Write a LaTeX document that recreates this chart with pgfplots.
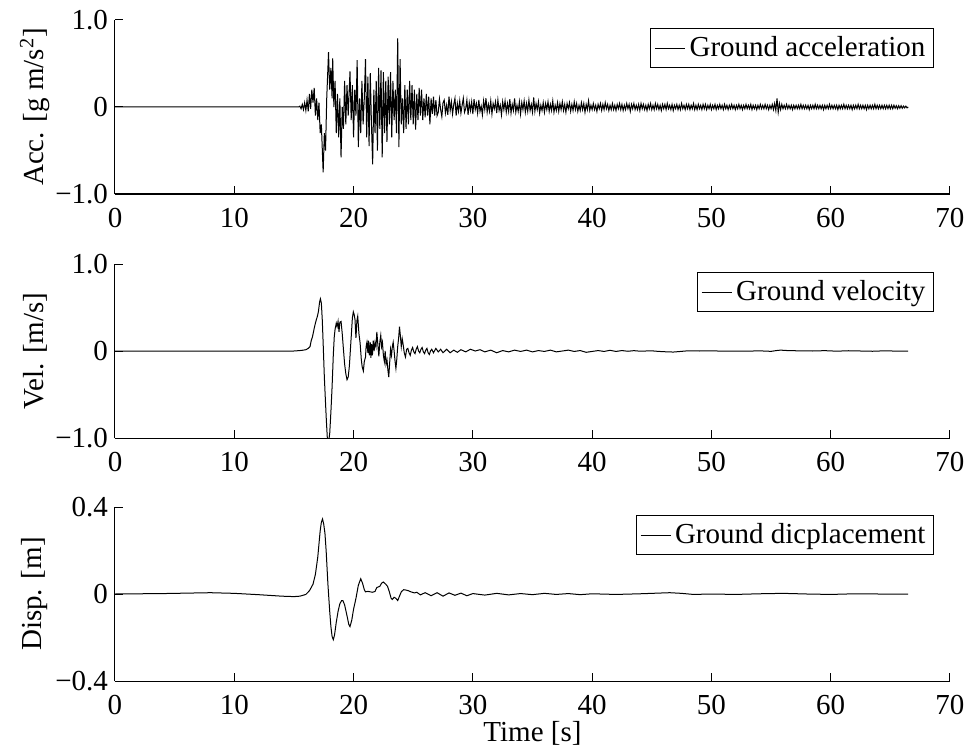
\documentclass[border=0pt]{standalone}
\usepackage{fontspec}
\setmainfont{Liberation Serif}
\usepackage{pgfplots}
\pgfplotsset{compat=1.18}

\newcommand{\fs}{\fontsize{14.5}{17}\selectfont}

\pgfplotsset{
  sig/.style={
    scale only axis,
    width=417.5pt, height=87pt,
    xmin=0, xmax=70,
    xtick={0,10,...,70},
    xticklabels={0,10,20,30,40,50,60,70},
    axis lines*=left,
    tick align=inside,
    major tick length=4pt,
    axis line style={line width=0.5pt, black},
    tick style={line width=0.5pt, black},
    tick label style={font=\fs},
    xticklabel style={yshift=-3.5pt},
    label style={font=\fs},
    ylabel style={at={(axis description cs:-0.0958,0.5)}, anchor=center},
    legend style={font=\fs, draw=black, line width=0.5pt, at={(rel axis cs:1,1)},
      anchor=north east, xshift=-8pt, yshift=-4pt, inner sep=2pt,
      legend cell align=left},
    legend image code/.code={\draw[#1] (0pt,0pt) -- (15pt,0pt);},
    cycle list={{black, line width=0.5pt}},
  }
}

\begin{document}
\begin{tikzpicture}
\path[use as bounding box] (-57.5pt,0pt) rectangle (427.5pt,-374.5pt);

% acceleration
\begin{axis}[sig, at={(0pt,-10pt)}, anchor=north west,
  ymin=-1, ymax=1, ytick={-1,0,1}, yticklabels={−1.0,0,1.0},
  ylabel={Acc. [g m/s\textsuperscript{2}]}]
\addplot[black, line width=0.5pt] coordinates {
(0,0) (15.4,0) (15.5,0.01) (15.6,-0.02) (15.7,0.03) (15.8,-0.03) (15.9,0.05) (16.0,-0.04)
(16.1,0.08) (16.2,-0.05) (16.3,0.15) (16.4,-0.02) (16.5,0.2) (16.6,0.05) (16.7,0.22) (16.8,-0.1)
(16.9,0.1) (17.0,-0.15) (17.1,0.05) (17.2,-0.3) (17.3,-0.2) (17.45,-0.75) (17.55,-0.3) (17.65,-0.5)
(17.75,0.1) (17.9,0.63) (18.0,0.2) (18.1,0.45) (18.2,0.1) (18.25,0.56) (18.35,0.0) (18.45,0.3)
(18.55,-0.3) (18.65,0.15) (18.75,-0.35) (18.85,0.1) (18.95,-0.58) (19.05,0.0) (19.15,-0.25) (19.25,0.3)
(19.35,-0.2) (19.45,0.25) (19.55,-0.1) (19.7,0.41) (19.8,-0.15) (19.9,0.25) (20.0,-0.35) (20.1,0.2)
(20.2,-0.1) (20.3,0.54) (20.4,-0.46) (20.5,0.1) (20.6,-0.3) (20.7,0.3) (20.8,-0.2) (20.9,0.1)
(21.0,0.55) (21.1,-0.35) (21.2,0.35) (21.3,-0.45) (21.4,0.39) (21.5,-0.2) (21.6,-0.66) (21.7,0.2)
(21.8,-0.3) (21.9,0.3) (22.0,-0.5) (22.1,0.45) (22.2,-0.25) (22.3,0.42) (22.4,-0.58) (22.5,0.40)
(22.6,-0.3) (22.7,0.3) (22.8,-0.4) (22.9,0.35) (23.0,-0.2) (23.1,0.4) (23.2,-0.35) (23.3,0.3)
(23.4,-0.15) (23.5,0.2) (23.6,-0.3) (23.7,0.79) (23.8,-0.46) (23.9,0.55) (24.0,-0.2) (24.1,0.1)
(24.2,-0.3) (24.3,0.25) (24.4,-0.25) (24.5,0.2) (24.6,-0.2) (24.7,0.3) (24.8,-0.15) (24.9,0.25)
(25.0,-0.2) (25.1,0.2) (25.2,-0.26) (25.3,0.15) (25.4,-0.15) (25.5,0.22) (25.6,-0.1) (25.7,0.2)
(25.8,-0.15) (25.9,0.1) (26.0,-0.12) (26.1,0.15) (26.2,-0.1) (26.3,0.12) (26.4,-0.2) (26.5,0.1)
(26.6,-0.08) (26.7,0.12) (26.8,-0.1) (26.9,0.08) (27.0,-0.1)
(27.1,-0.06) (27.2,0.09) (27.3,-0.03) (27.4,-0.11) (27.5,0.05) (27.6,0.08) (27.7,-0.07) (27.8,0.02) (27.9,-0.09) (28.0,0.12)
(28.1,-0.04) (28.2,0.06) (28.3,-0.08) (28.4,0.03) (28.5,0.10) (28.6,-0.10) (28.7,0.04) (28.8,-0.05) (28.9,0.07) (29.0,-0.07)
(29.1,0.02) (29.2,0.10) (29.3,-0.06) (29.4,-0.02) (29.5,0.08) (29.6,-0.09) (29.7,0.05) (29.8,-0.04) (29.9,0.06) (30.0,-0.08)
(30.1,0.09) (30.2,-0.03) (30.3,0.04) (30.4,-0.07) (30.5,0.08) (30.6,-0.05) (30.7,0.01) (30.8,-0.09) (30.9,0.07) (31.0,-0.03)
(31.1,0.10) (31.2,-0.06) (31.3,0.03) (31.4,-0.05) (31.5,0.07) (31.6,-0.08) (31.7,0.04) (31.8,-0.02) (31.9,0.06) (32.0,-0.07)
(32.1,0.08) (32.2,-0.04) (32.3,0.02) (32.4,-0.09) (32.5,0.06) (32.6,-0.03) (32.7,0.07) (32.8,-0.06) (32.9,0.04) (33.0,-0.05)
(33.1,0.09) (33.2,-0.07) (33.3,0.03) (33.4,-0.04) (33.5,0.10) (33.6,-0.06) (33.7,0.02) (33.8,-0.05) (33.9,0.06) (34.0,-0.08)
(34.1,0.05) (34.2,-0.03) (34.3,0.07) (34.4,-0.06) (34.5,0.04) (34.6,-0.05) (34.7,0.08) (34.8,-0.04) (34.9,0.03) (35.0,-0.06)
(35.1,0.11) (35.2,-0.05) (35.3,0.04) (35.4,-0.03) (35.5,0.06) (35.6,-0.07) (35.7,0.02) (35.8,-0.04) (35.9,0.05) (36.0,-0.06)
(36.1,0.04) (36.2,-0.03) (36.3,0.06) (36.4,-0.05) (36.5,0.03) (36.6,-0.04) (36.7,0.07) (36.8,-0.06) (36.9,0.02) (37.0,-0.04)
(37.1,0.05) (37.2,-0.05) (37.3,0.04) (37.4,-0.03) (37.5,0.06) (37.6,-0.04) (37.7,0.03) (37.8,-0.06) (37.9,0.04) (38.0,-0.02)
(38.1,0.05) (38.2,-0.05) (38.3,0.03) (38.4,-0.04) (38.5,0.06) (38.6,-0.03) (38.7,0.04) (38.8,-0.05) (38.9,0.02) (39.0,-0.04)
(39.1,0.05) (39.2,-0.03) (39.3,0.04) (39.4,-0.06) (39.5,0.03) (39.6,-0.03) (39.7,0.07) (39.8,-0.04) (39.9,0.02) (40.0,-0.03)
(40.1,0.04) (40.2,-0.03) (40.3,0.02) (40.4,-0.05) (40.5,0.03) (40.6,-0.02) (40.7,0.04) (40.8,-0.04) (40.9,0.03) (41.0,-0.03)
(41.1,0.05) (41.2,-0.02) (41.3,0.03) (41.4,-0.04) (41.5,0.02) (41.6,-0.03) (41.7,0.04) (41.8,-0.03) (41.9,0.02) (42.0,-0.04)
(42.1,0.03) (42.2,-0.02) (42.3,0.04) (42.4,-0.03) (42.5,0.03) (42.6,-0.04) (42.7,0.02) (42.8,-0.03) (42.9,0.04) (43.0,-0.02)
(43.1,0.03) (43.2,-0.05) (43.3,0.03) (43.4,-0.02) (43.5,0.04) (43.6,-0.03) (43.7,0.02) (43.8,-0.03) (43.9,0.03) (44.0,-0.04)
(44.1,0.04) (44.2,-0.02) (44.3,0.03) (44.4,-0.03) (44.5,0.02) (44.6,-0.04) (44.7,0.03) (44.8,-0.02) (44.9,0.04) (45.0,-0.03)
(45.1,0.02) (45.2,-0.03) (45.3,0.04) (45.4,-0.02) (45.5,0.03) (45.6,-0.03) (45.7,0.02) (45.8,-0.04) (45.9,0.03) (46.0,-0.02)
(46.1,0.03) (46.2,-0.03) (46.3,0.04) (46.4,-0.02) (46.5,0.02) (46.6,-0.03) (46.7,0.03) (46.8,-0.04) (46.9,0.02) (47.0,-0.02)
(47.1,0.03) (47.2,-0.03) (47.3,0.02) (47.4,-0.03) (47.5,0.04) (47.6,-0.02) (47.7,0.02) (47.8,-0.03) (47.9,0.03) (48.0,-0.02)
(48.1,0.03) (48.2,-0.03) (48.3,0.02) (48.4,-0.02) (48.5,0.04) (48.6,-0.03) (48.7,0.02) (48.8,-0.03) (48.9,0.03) (49.0,-0.02)
(49.1,0.02) (49.2,-0.03) (49.3,0.03) (49.4,-0.02) (49.5,0.03) (49.6,-0.03) (49.7,0.02) (49.8,-0.02) (49.9,0.03) (50.0,-0.03)
(50.1,0.02) (50.2,-0.02) (50.3,0.03) (50.4,-0.03) (50.5,0.02) (50.6,-0.02) (50.7,0.03) (50.8,-0.02) (50.9,0.02) (51.0,-0.03)
(51.1,0.03) (51.2,-0.02) (51.3,0.02) (51.4,-0.03) (51.5,0.02) (51.6,-0.02) (51.7,0.03) (51.8,-0.02) (51.9,0.02) (52.0,-0.03)
(52.1,0.02) (52.2,-0.02) (52.3,0.03) (52.4,-0.02) (52.5,0.02) (52.6,-0.03) (52.7,0.02) (52.8,-0.02) (52.9,0.03) (53.0,-0.02)
(53.1,0.02) (53.2,-0.02) (53.3,0.03) (53.4,-0.03) (53.5,0.02) (53.6,-0.02) (53.7,0.02) (53.8,-0.03) (53.9,0.02) (54.0,-0.02)
(54.1,0.03) (54.2,-0.02) (54.3,0.02) (54.4,-0.02) (54.5,0.03) (54.6,-0.02) (54.7,0.02) (54.8,-0.03) (54.9,0.02) (55.0,-0.02)
(55.1,0.03) (55.2,-0.03) (55.3,0.04) (55.4,-0.04) (55.5,0.10) (55.6,-0.06) (55.7,0.04) (55.8,-0.03) (55.9,0.03) (56.0,-0.02)
(56.1,0.02) (56.2,-0.02) (56.3,0.03) (56.4,-0.02) (56.5,0.02) (56.6,-0.02) (56.7,0.02) (56.8,-0.03) (56.9,0.02) (57.0,-0.02)
(57.1,0.02) (57.2,-0.02) (57.3,0.02) (57.4,-0.02) (57.5,0.03) (57.6,-0.02) (57.7,0.02) (57.8,-0.02) (57.9,0.02) (58.0,-0.02)
(58.1,0.02) (58.2,-0.03) (58.3,0.02) (58.4,-0.02) (58.5,0.02) (58.6,-0.02) (58.7,0.03) (58.8,-0.02) (58.9,0.02) (59.0,-0.02)
(59.1,0.02) (59.2,-0.02) (59.3,0.02) (59.4,-0.03) (59.5,0.02) (59.6,-0.02) (59.7,0.02) (59.8,-0.02) (59.9,0.03) (60.0,-0.02)
(60.1,0.02) (60.2,-0.02) (60.3,0.02) (60.4,-0.02) (60.5,0.02) (60.6,-0.03) (60.7,0.02) (60.8,-0.02) (60.9,0.02) (61.0,-0.02)
(61.1,0.03) (61.2,-0.02) (61.3,0.02) (61.4,-0.02) (61.5,0.02) (61.6,-0.02) (61.7,0.02) (61.8,-0.03) (61.9,0.02) (62.0,-0.02)
(62.1,0.02) (62.2,-0.02) (62.3,0.03) (62.4,-0.02) (62.5,0.02) (62.6,-0.02) (62.7,0.02) (62.8,-0.02) (62.9,0.02) (63.0,-0.03)
(63.1,0.02) (63.2,-0.02) (63.3,0.02) (63.4,-0.02) (63.5,0.02) (63.6,-0.02) (63.7,0.03) (63.8,-0.02) (63.9,0.02) (64.0,-0.02)
(64.1,0.02) (64.2,-0.02) (64.3,0.02) (64.4,-0.02) (64.5,0.02) (64.6,-0.02) (64.7,0.02) (64.8,-0.02) (64.9,0.02) (65.0,-0.02)
(65.1,0.02) (65.2,-0.02) (65.3,0.02) (65.4,-0.015) (65.5,0.015) (65.6,-0.02) (65.7,0.015) (65.8,-0.015) (65.9,0.015) (66.0,-0.015)
(66.1,0.01) (66.2,-0.01) (66.3,0.01) (66.4,-0.01) (66.5,0)
};
\addlegendentry{Ground acceleration}
\end{axis}

% velocity
\begin{axis}[sig, at={(0pt,-132pt)}, anchor=north west,
  ymin=-1, ymax=1, ytick={-1,0,1}, yticklabels={−1.0,0,1.0},
  ylabel={Vel. [m/s]}]
\addplot[black, line width=0.5pt] coordinates {
(0,0) (15.0,0) (15.5,0.005) (15.8,0.01) (16.0,0.015) (16.2,0.03) (16.35,0.05) (16.45,0.12)
(16.55,0.16) (16.7,0.26) (16.8,0.32) (16.9,0.37) (16.95,0.39) (17.05,0.45) (17.15,0.56) (17.22,0.6)
(17.3,0.55) (17.38,0.35) (17.45,0.09) (17.55,-0.3) (17.65,-0.6) (17.72,-0.8) (17.8,-1.0) (17.9,-1.05)
(18.0,-0.95) (18.1,-0.7) (18.2,-0.41) (18.3,-0.05) (18.38,0.16) (18.45,0.25) (18.55,0.32) (18.62,0.28)
(18.7,0.34) (18.78,0.22) (18.85,0.33) (18.95,0.34) (19.05,0.2) (19.15,0.02) (19.25,-0.15) (19.35,-0.26)
(19.45,-0.33) (19.55,-0.3) (19.65,-0.17) (19.75,0.05) (19.82,0.2) (19.9,0.38) (19.98,0.45) (20.05,0.42)
(20.12,0.36) (20.2,0.15) (20.28,0.35) (20.35,0.4) (20.45,0.2) (20.55,0.09) (20.65,-0.1) (20.72,-0.18)
(20.82,-0.23) (20.9,-0.12) (21.0,-0.07) (21.05,0.05) (21.12,0.1) (21.2,-0.02) (21.25,0.12) (21.32,-0.05)
(21.4,0.1) (21.45,-0.08) (21.52,0.08) (21.58,-0.05) (21.65,0.12) (21.72,0.0) (21.8,0.1) (21.88,0.05)
(21.95,0.22) (22.05,0.05) (22.12,-0.06) (22.2,0.1) (22.28,0.18) (22.35,0.05) (22.42,0.1) (22.5,-0.05)
(22.58,-0.12) (22.65,0.0) (22.72,-0.15) (22.8,-0.1) (22.88,-0.22) (22.95,-0.3) (23.02,-0.15) (23.1,0.02)
(23.18,-0.05) (23.25,0.05) (23.32,0.1) (23.4,0.0) (23.48,-0.12) (23.55,-0.2) (23.62,-0.1) (23.7,0.05)
(23.78,0.15) (23.85,0.28) (23.92,0.18) (24.0,0.05) (24.08,0.14) (24.15,0.08) (24.25,-0.02) (24.35,-0.07)
(24.45,0.02) (24.55,0.03) (24.65,-0.02) (24.75,-0.05) (24.85,0.01) (24.95,0.04) (25.05,-0.01) (25.15,-0.03)
(25.25,0.02) (25.35,0.05) (25.45,0.0) (25.55,-0.02) (25.65,0.02) (25.75,0.04) (25.85,-0.01) (25.95,-0.03)
(26.05,0.01) (26.15,0.03) (26.25,-0.02) (26.35,-0.04) (26.45,0.0) (26.55,0.02) (26.7,-0.02) (26.9,0.03)
(27.1,-0.01) (27.3,0.02) (27.5,-0.02) (27.8,0.02) (28.1,-0.02) (28.4,0.01) (28.7,-0.015) (29.0,0.015)
(29.4,-0.01) (29.8,0.02) (30.2,0.0) (30.6,0.015) (31.0,-0.01) (31.5,0.01) (32.0,-0.02) (32.5,0.005)
(33.0,-0.01) (33.5,0.01) (34.0,-0.005) (34.5,0.01) (35.0,-0.01) (35.5,0.005) (36.0,-0.005) (36.5,0.01)
(37.0,-0.01) (37.5,0.0) (38.0,0.01) (38.5,-0.005) (39.0,0.005) (39.5,-0.015) (40.0,-0.005) (40.5,0.005)
(41.0,-0.005) (41.5,0.008) (42.0,-0.005) (42.5,0.005) (43.0,-0.003) (43.5,0.004) (44.0,-0.002) (44.5,0.0)
(45.0,0.002) (45.5,-0.004) (46.0,-0.008) (46.8,-0.012) (47.5,-0.004) (48.0,0.002) (49.0,0.0) (50.0,0.002)
(51.0,-0.002) (52.0,0.0) (53.0,-0.002) (54.0,0.002) (55.0,-0.004) (55.5,0.006) (55.8,0.01) (56.5,0.004)
(57.5,0.002) (58.5,0.0) (59.5,0.004) (60.5,-0.002) (61.5,0.003) (62.5,0.0) (63.5,-0.003) (64.5,0.002)
(65.5,-0.001) (66.5,0)
};
\addlegendentry{Ground velocity}
\end{axis}

% displacement
\begin{axis}[sig, at={(0pt,-253.5pt)}, anchor=north west,
  ymin=-0.4, ymax=0.4, ytick={-0.4,0,0.4}, yticklabels={−0.4,0,0.4},
  ylabel={Disp. [m]},
  xlabel={Time [s]},
  xlabel style={at={(axis description cs:0.5,0)}, anchor=center, yshift=-26pt}]
\addplot[black, line width=0.5pt] coordinates {
(0,0) (2,0.001) (4,0.002) (6,0.004) (8,0.006) (10,0.003) (12,-0.003) (14,-0.01)
(15,-0.012) (15.5,-0.01) (16.0,-0.002) (16.3,0.015) (16.6,0.045) (16.8,0.09) (17.0,0.17) (17.2,0.29)
(17.3,0.33) (17.4,0.345) (17.5,0.32) (17.6,0.28) (17.7,0.2) (17.85,0.045) (18.0,-0.08) (18.1,-0.15)
(18.2,-0.195) (18.3,-0.21) (18.4,-0.19) (18.55,-0.13) (18.7,-0.08) (18.85,-0.045) (19.0,-0.03) (19.1,-0.03)
(19.25,-0.05) (19.45,-0.1) (19.6,-0.14) (19.7,-0.15) (19.85,-0.12) (20.0,-0.07) (20.2,-0.02) (20.4,0.04)
(20.6,0.07) (20.75,0.05) (20.9,0.02) (21.0,0.01) (21.2,0.012) (21.4,0.01) (21.6,0.008) (21.8,0.012)
(21.95,0.03) (22.2,0.035) (22.35,0.05) (22.5,0.055) (22.7,0.045) (22.85,0.035) (23.0,0.01) (23.15,-0.02)
(23.25,-0.025) (23.4,-0.015) (23.55,-0.02) (23.7,-0.03) (23.85,-0.01) (24.0,0.01) (24.2,0.02) (24.4,0.018)
(24.6,0.015) (24.8,0.01) (25.1,0.005) (25.3,0.008) (25.6,-0.004) (26.0,0.006) (26.5,-0.008) (27.0,0.006)
(27.5,-0.01) (28.0,0.005) (28.5,-0.006) (29.0,0.004) (29.5,-0.008) (30.0,0.002) (31.0,-0.005) (32.0,0.003)
(33.0,-0.004) (34.0,0.002) (35.0,-0.003) (36.0,0.003) (37.0,-0.002) (38.0,0.002) (39.0,-0.003) (40.0,0.001)
(42.0,-0.002) (44.0,0.001) (45.5,0.004) (46.5,0.006) (47.5,0.003) (48.5,-0.002) (50.0,0.0) (52.0,-0.002)
(54.0,0.001) (56.0,0.003) (58.0,0.0) (60.0,-0.002) (62.0,0.001) (64.0,0.0) (66.5,0)
};
\addlegendentry{Ground dicplacement}
\end{axis}
\end{tikzpicture}
\end{document}
